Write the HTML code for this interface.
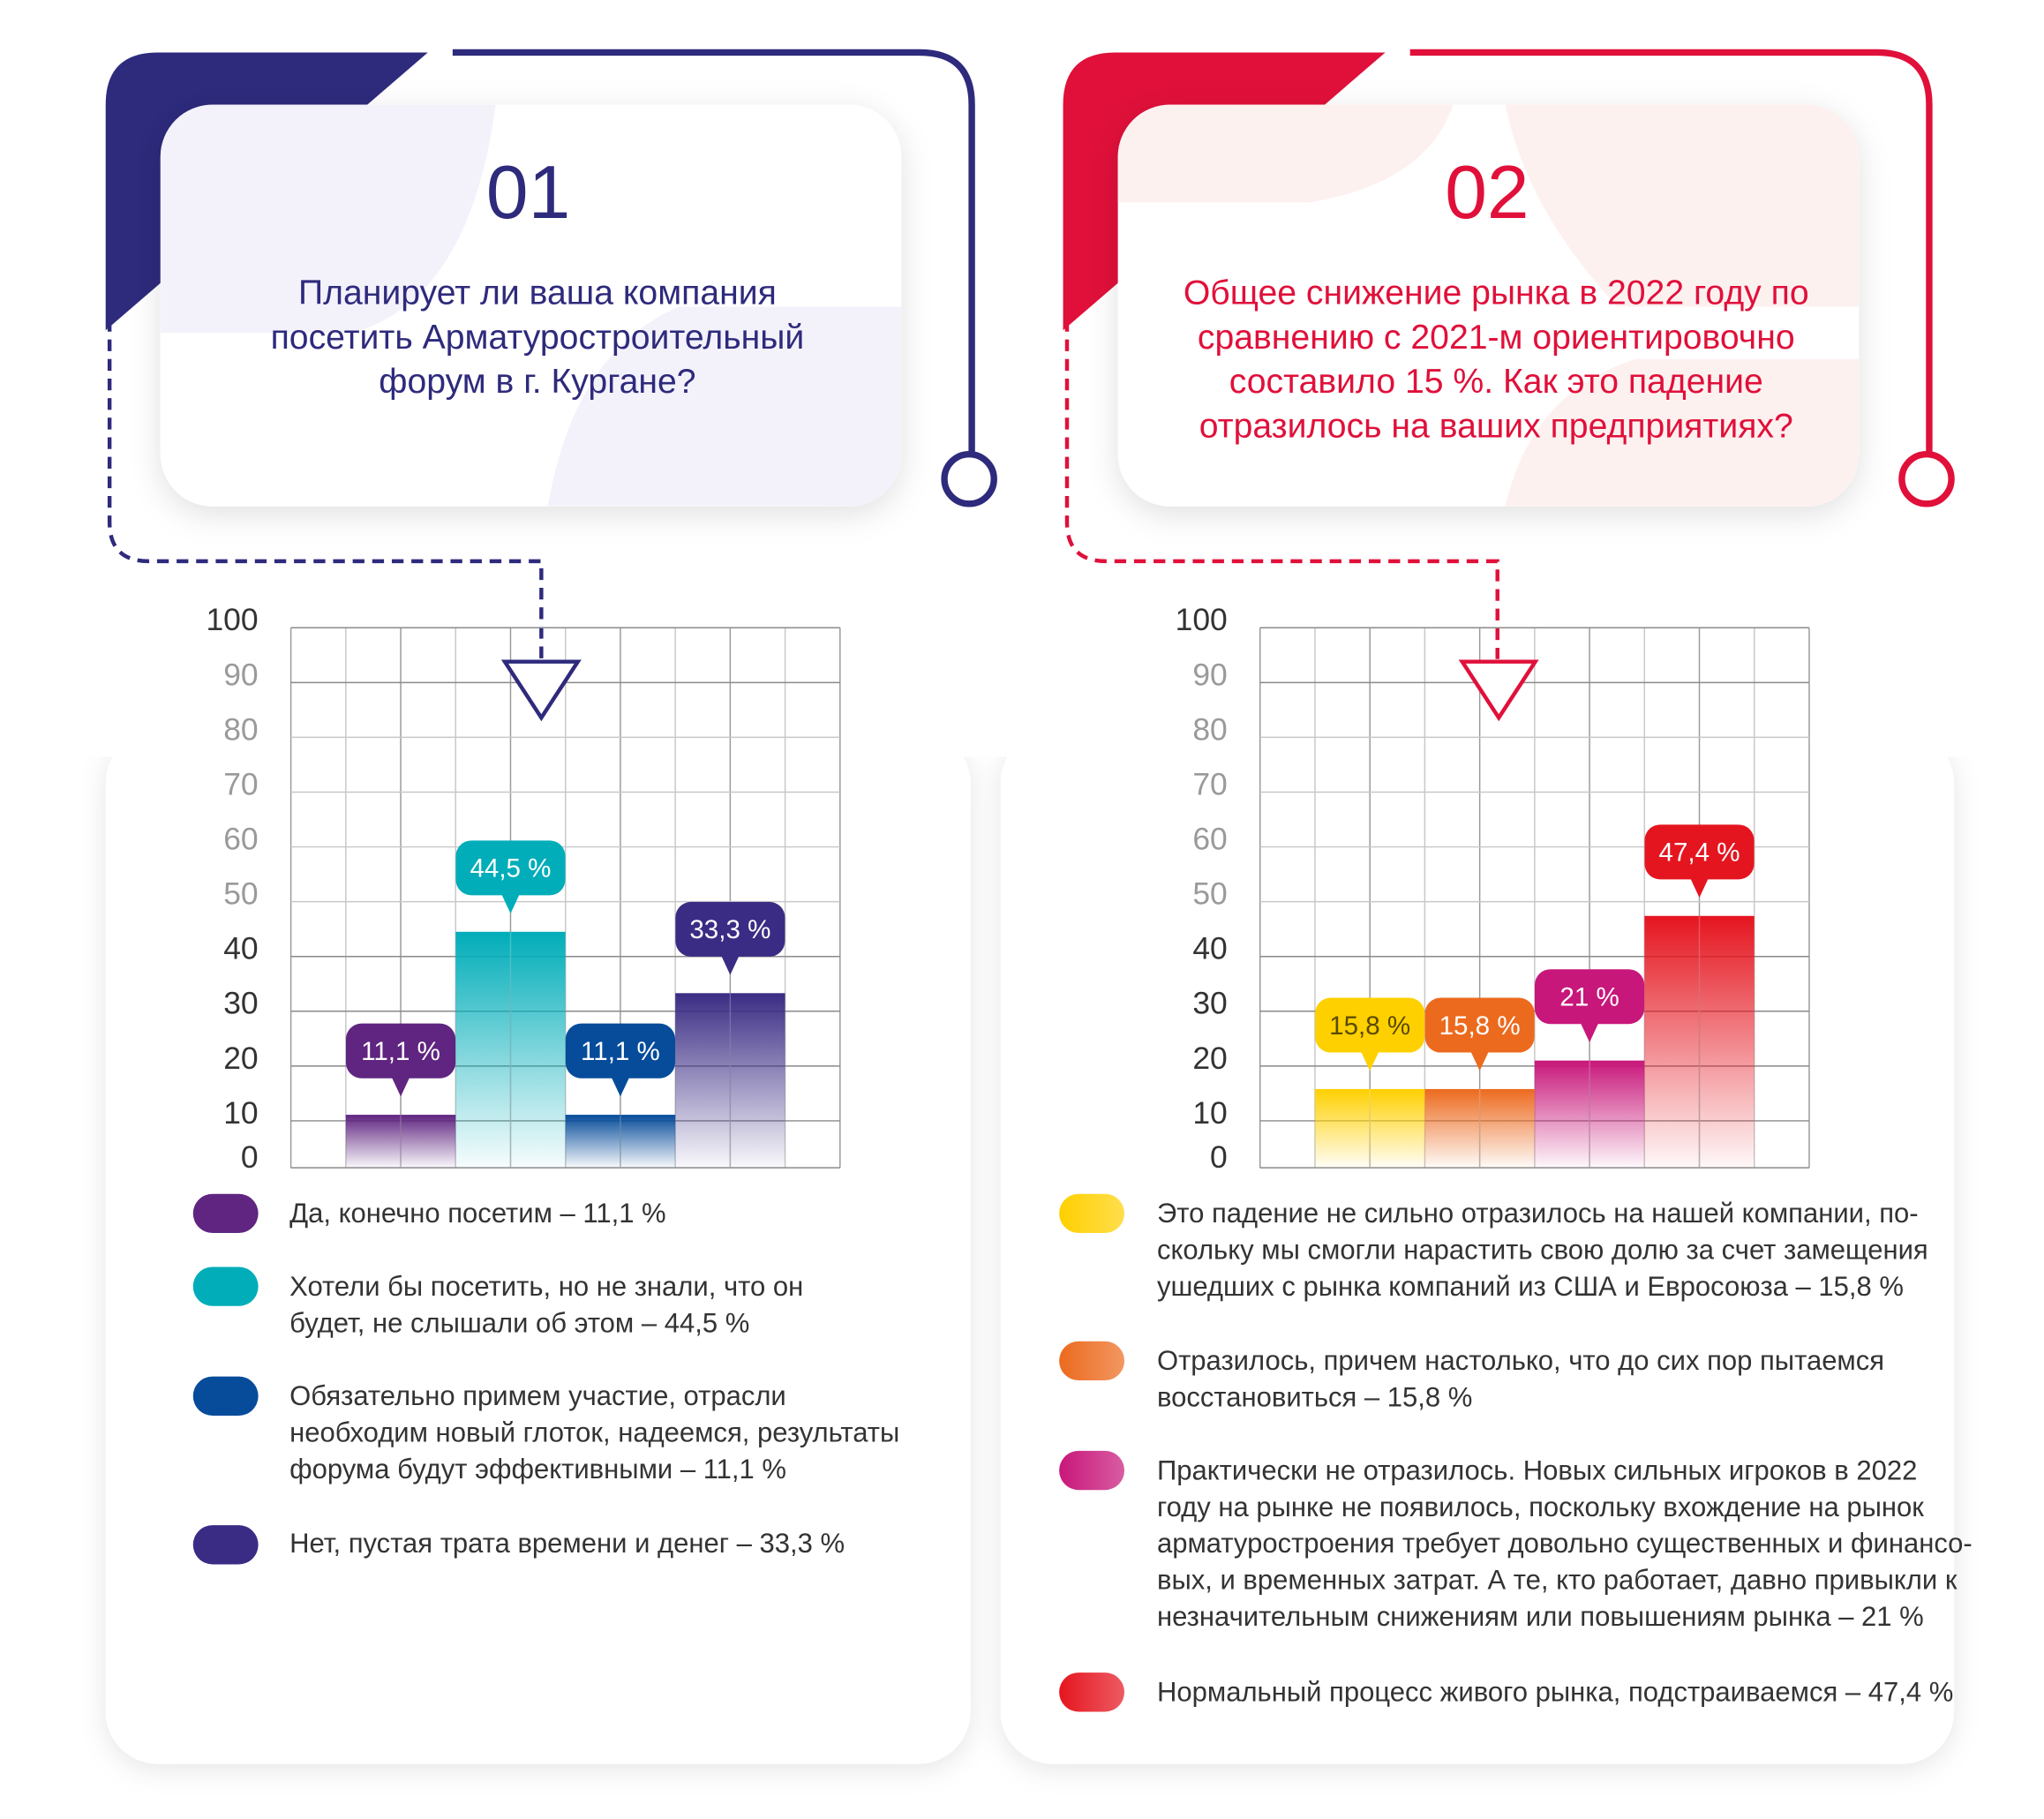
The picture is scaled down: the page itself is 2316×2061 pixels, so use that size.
<!DOCTYPE html>
<html><head><meta charset="utf-8">
<style>
html,body{margin:0;padding:0;background:#fff;}
svg{display:block;}
text{font-family:"Liberation Sans","DejaVu Sans",sans-serif;}
</style></head>
<body>
<svg id="root" width="2316" height="2061" viewBox="0 0 1567 1394" xmlns="http://www.w3.org/2000/svg">
<defs>
  <filter id="sh" x="-20%" y="-20%" width="140%" height="140%"><feDropShadow dx="0" dy="6" stdDeviation="12" flood-color="#000" flood-opacity="0.12"/></filter>
  <filter id="sh2" x="-20%" y="-20%" width="140%" height="140%"><feDropShadow dx="0" dy="4" stdDeviation="10" flood-color="#000" flood-opacity="0.10"/></filter>
  <clipPath id="c1"><rect x="123" y="80" width="568" height="308" rx="40"/></clipPath>
  <clipPath id="c2"><rect x="857" y="80" width="568" height="308" rx="40"/></clipPath>
</defs>

<rect x="81" y="560" width="663" height="792" rx="40" fill="#fff" filter="url(#sh2)"/>
<rect x="767" y="560" width="731" height="792" rx="40" fill="#fff" filter="url(#sh2)"/>
<rect x="60" y="430" width="1460" height="150" fill="#fff"/>

<path d="M81,253 L81,80 Q81,40 121,40 L328,40 Z" fill="#2e2a7c"/>
<path d="M347,40 L705,40 Q745,40 745,80 L745,347" fill="none" stroke="#2e2a7c" stroke-width="5"/>
<circle cx="743" cy="367" r="19" fill="#fff" stroke="#2e2a7c" stroke-width="5"/>
<path d="M84,245 L84,400 Q84,430 114,430 L415,430 L415,505" fill="none" stroke="#2e2a7c" stroke-width="3" stroke-dasharray="9,6"/>

<g filter="url(#sh)">
<rect x="123" y="80" width="568" height="308" rx="40" fill="#fff"/>
</g>
<g clip-path="url(#c1)">
  <path d="M123,80 L380,80 Q360,230 270,255 L123,255 Z" fill="#f3f2fb"/>
  <path d="M420,388 Q440,270 520,235 L691,235 L691,388 Z" fill="#f3f2fb"/>
</g>
<text x="405" y="167" font-size="58" fill="#2e2a7c" text-anchor="middle">01</text>
<g font-size="26.5" fill="#2e2a7c" text-anchor="middle">
<text x="412" y="233">Планирует ли ваша компания</text>
<text x="412" y="267">посетить Арматуростроительный</text>
<text x="412" y="301">форум в г. Кургане?</text>
</g>

<path d="M815,253 L815,80 Q815,40 855,40 L1062,40 Z" fill="#e0103a"/>
<path d="M1081,40 L1439,40 Q1479,40 1479,80 L1479,347" fill="none" stroke="#e0103a" stroke-width="5"/>
<circle cx="1477" cy="367" r="19" fill="#fff" stroke="#e0103a" stroke-width="5"/>
<path d="M818,245 L818,400 Q818,430 848,430 L1148,430 L1148,505" fill="none" stroke="#e0103a" stroke-width="3" stroke-dasharray="9,6"/>

<g filter="url(#sh)">
<rect x="857" y="80" width="568" height="308" rx="40" fill="#fff"/>
</g>
<g clip-path="url(#c2)">
  <path d="M857,80 L1114,80 Q1094,140 1004,155 L857,155 Z" fill="#fdf1f0"/>
  <path d="M1154,80 L1425,80 L1425,235 L1240,235 Q1170,160 1154,80 Z" fill="#fdf1f0"/>
  <path d="M1154,388 Q1174,300 1254,275 L1425,275 L1425,388 Z" fill="#fdf1f0"/>
</g>
<text x="1140" y="167" font-size="58" fill="#e0103a" text-anchor="middle">02</text>
<g font-size="26.5" fill="#e0103a" text-anchor="middle">
<text x="1147" y="233">Общее снижение рынка в 2022 году по</text>
<text x="1147" y="267">сравнению с 2021-м ориентировочно</text>
<text x="1147" y="301">составило 15 %. Как это падение</text>
<text x="1147" y="335">отразилось на ваших предприятиях?</text>
</g>

<g id="chart1"></g>
<g id="chart2"></g>

<polygon points="387,507 443,507 415,550" fill="#fff" stroke="#2e2a7c" stroke-width="3"/>
<polygon points="1121,507 1177,507 1149,550" fill="#fff" stroke="#e0103a" stroke-width="3"/>

<g font-size="21" fill="#333">
<text x="222" y="937">Да, конечно посетим – 11,1 %</text>
<text x="222" y="993">Хотели бы посетить, но не знали, что он</text>
<text x="222" y="1021">будет, не слышали об этом – 44,5 %</text>
<text x="222" y="1077">Обязательно примем участие, отрасли</text>
<text x="222" y="1105">необходим новый глоток, надеемся, результаты</text>
<text x="222" y="1133">форума будут эффективными – 11,1 %</text>
<text x="222" y="1190">Нет, пустая трата времени и денег – 33,3 %</text>
</g>
<g font-size="21" fill="#333">
<text x="887" y="937">Это падение не сильно отразилось на нашей компании, по-</text>
<text x="887" y="965">скольку мы смогли нарастить свою долю за счет замещения</text>
<text x="887" y="993">ушедших с рынка компаний из США и Евросоюза – 15,8 %</text>
<text x="887" y="1050">Отразилось, причем настолько, что до сих пор пытаемся</text>
<text x="887" y="1078">восстановиться – 15,8 %</text>
<text x="887" y="1134">Практически не отразилось. Новых сильных игроков в 2022</text>
<text x="887" y="1162">году на рынке не появилось, поскольку вхождение на рынок</text>
<text x="887" y="1190">арматуростроения требует довольно существенных и финансо-</text>
<text x="887" y="1218">вых, и временных затрат. А те, кто работает, давно привыкли к</text>
<text x="887" y="1246">незначительным снижениям или повышениям рынка – 21 %</text>
<text x="887" y="1304">Нормальный процесс живого рынка, подстраиваемся – 47,4 %</text>
</g>
</svg>

<script>
const NS = "http://www.w3.org/2000/svg";
const ticks = ["0","10","20","30","40","50","60","70","80","90","100"];
const leftCategories = ["Да, конечно посетим","Хотели бы посетить","Обязательно примем участие","Нет, пустая трата"];
const leftValues = [11.1, 44.5, 11.1, 33.3];
const leftLabels = ["11,1 %","44,5 %","11,1 %","33,3 %"];
const leftColors = ["#5f2580","#00adb9","#064c9a","#3a2c84"];
const rightCategories = ["Не сильно отразилось","Отразилось","Практически не отразилось","Нормальный процесс"];
const rightValues = [15.8, 15.8, 21, 47.4];
const rightLabels = ["15,8 %","15,8 %","21 %","47,4 %"];
const rightColors = ["#ffd000","#ec6a1e","#c8177a","#e5151f"];
const leftLegendY = [930, 986, 1070, 1184];
const rightLegendY = [930, 1043, 1127, 1297];

function mk(tag, attrs, parent){
  const e = document.createElementNS(NS, tag);
  for (const k in attrs) e.setAttribute(k, attrs[k]);
  parent.appendChild(e);
  return e;
}
const defs = document.querySelector("defs");

function drawChart(gid, x0, values, labels, colors, legendX, legendY, prefix){
  const g = document.getElementById(gid);
  const plotL = x0, plotR = x0 + 421, plotT = 481, plotB = 895;
  const colW = (plotR - plotL) / 10;
  const y = v => plotT + (100 - v) * 4.2;
  const xb = i => plotL + colW * (1 + 2 * i);
  for (let i = 0; i <= 10; i++) {
    const vl = mk("line", {x1: plotL + i*colW, x2: plotL + i*colW, y1: plotT, y2: plotB, stroke: i%2 ? "#c8c8c8" : "#9a9a9a", "stroke-width": 1}, g);
    
    
  }
  ticks.forEach((t, i) => {
    const v = +t;
    const yy = Math.min(y(v), plotB);
    const hl = mk("line", {x1: plotL, x2: plotR, y1: yy, y2: yy, stroke: (v>=90||v<=40) ? "#8a8a8a" : "#c8c8c8", "stroke-width": 1}, g);
    
    
    const ly = v === 0 ? 895 : y(v) + 2;
    const tx = mk("text", {x: plotL - 25, y: ly, "font-size": 24, "text-anchor": "end", fill: (v >= 50 && v <= 90) ? "#9a9a9a" : "#333"}, g);
    tx.textContent = t;
    
    
  });
  values.forEach((v, i) => {
    const gr = mk("linearGradient", {id: prefix+"g"+i, x1: 0, y1: 0, x2: 0, y2: 1}, defs);
    mk("stop", {offset: "0", "stop-color": colors[i]}, gr);
    mk("stop", {offset: "1", "stop-color": colors[i], "stop-opacity": "0.03"}, gr);
    const top = y(v);
    const bar = mk("rect", {x: xb(i), y: top, width: colW*2, height: plotB - top, fill: "url(#"+prefix+"g"+i+")"}, g);
    
    
    const il = mk("line", {x1: xb(i)+colW, x2: xb(i)+colW, y1: top, y2: plotB, stroke: "#fff", "stroke-opacity": 0.25}, g);
    
    
    const cx = xb(i) + colW, tip = top - 14, bb = tip - 14, bt = bb - 42;
    const bub = mk("g", {}, g);
    
    
    mk("rect", {x: cx - 42, y: bt, width: 84, height: 42, rx: 12, fill: colors[i]}, bub);
    mk("polygon", {points: (cx-7)+","+(bb-1)+" "+(cx+7)+","+(bb-1)+" "+cx+","+tip, fill: colors[i]}, bub);
    const lt = mk("text", {x: cx, y: bt + 28, "font-size": 20, "text-anchor": "middle", fill: colors[i] === "#ffd000" ? "#5a4a00" : "#fff"}, bub);
    lt.textContent = labels[i];
    const pg = mk("linearGradient", {id: prefix+"p"+i, x1: 0, y1: 0, x2: 1, y2: 0}, defs);
    mk("stop", {offset: "0", "stop-color": colors[i]}, pg);
    mk("stop", {offset: "1", "stop-color": colors[i], "stop-opacity": prefix === "right" ? "0.7" : "1"}, pg);
    const pill = mk("rect", {x: legendX, y: legendY[i] - 15, width: 50, height: 30, rx: 15, fill: "url(#"+prefix+"p"+i+")"}, g);
    
    
  });
}
drawChart("chart1", 223, leftValues, leftLabels, leftColors, 148, leftLegendY, "left");
drawChart("chart2", 966, rightValues, rightLabels, rightColors, 812, rightLegendY, "right");
</script>
</body></html>
